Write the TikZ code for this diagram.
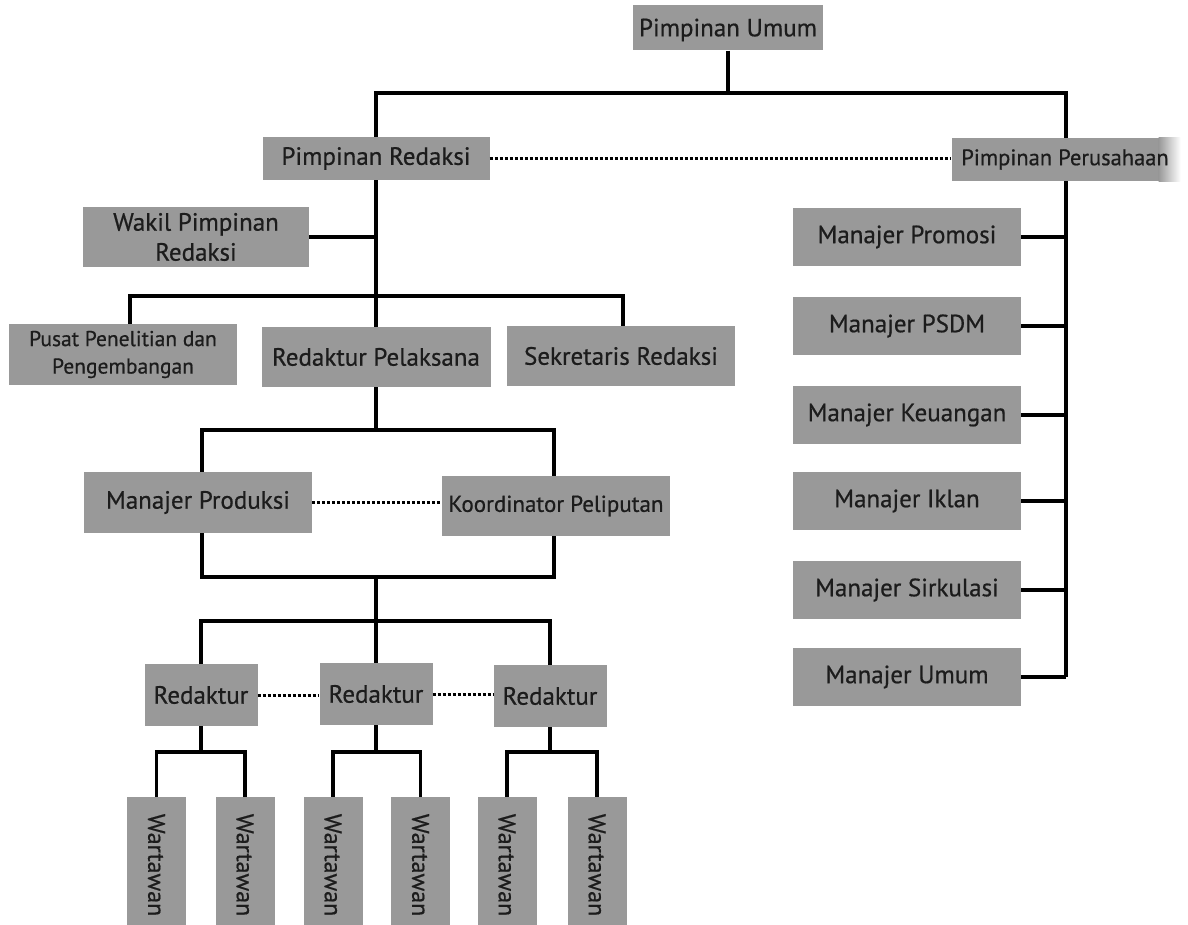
\documentclass[tikz,border=0pt]{standalone}
\usepackage{fontspec}
\setmainfont{PT Sans}[FakeBold=0.6]
\definecolor{boxgray}{RGB}{153,153,153}
\definecolor{txt}{RGB}{28,28,28}
\begin{document}
\begin{tikzpicture}[x=1pt,y=-1pt,
  box/.style={fill=boxgray,inner sep=0pt,text=txt,align=center,font=\fontsize{25}{30}\selectfont},
  lbl/.style={inner sep=0pt,text=txt,align=center,font=\fontsize{25}{30}\selectfont},
  conn/.style={line width=3.6pt,black},
  dots/.style={line width=3pt,black,dash pattern=on 3pt off 2pt}]
\useasboundingbox (0,0) rectangle (1188,925);
% top
\node[box,minimum width=190,minimum height=45] (pu) at (728,28) {};
\node[lbl] at ([yshift=-2]pu.center) {Pimpinan Umum};
\node[box,minimum width=227,minimum height=43] (pr) at (376,158.5) {Pimpinan Redaksi};
\node[box,minimum width=229,minimum height=43] (pp) at (1066,159.5) {};
\shade[left color=boxgray,right color=white] ([xshift=-22]pp.north east) rectangle (pp.south east);
\node[lbl,font=\fontsize{22.5}{28}\selectfont] at ([xshift=-1]pp.center) {Pimpinan Perusahaan};
\node[box,minimum width=226,minimum height=60] (wpr) at (196,237) {Wakil Pimpinan\\Redaksi};
\node[box,minimum width=228,minimum height=61,font=\fontsize{21.5}{27.5}\selectfont] (pus) at (123,354.5) {Pusat Penelitian dan\\Pengembangan};
\node[box,minimum width=229,minimum height=60] (rp) at (376,357) {Redaktur Pelaksana};
\node[box,minimum width=228,minimum height=60] (sr) at (621,356) {Sekretaris Redaksi};
\node[box,minimum width=228,minimum height=61] (mp) at (198,502.5) {Manajer Produksi};
\node[box,minimum width=228,minimum height=60,font=\fontsize{23}{28}\selectfont] (kp) at (556,506) {Koordinator Peliputan};
% redaktur
\node[box,minimum width=113,minimum height=62] (rd1) at (201,695) {Redaktur};
\node[box,minimum width=113,minimum height=62] (rd2) at (376,694) {Redaktur};
\node[box,minimum width=113,minimum height=62] (rd3) at (550,696) {Redaktur};
% wartawan
\foreach \n/\xx in {w1/156.5,w2/245,w3/333,w4/420.5,w5/507,w6/597}{
  \node[box,minimum width=59,minimum height=128] (\n) at (\xx,861) {};
  \shade[top color=boxgray,bottom color=white] ([yshift=-22]\n.south west) rectangle (\n.south east);
  \node[lbl,font=\fontsize{24}{29}\selectfont,rotate=-90] at ([yshift=-4]\n.center) {Wartawan};
}
% managers
\node[box,minimum width=228,minimum height=58] (m1) at (907,237) {Manajer Promosi};
\node[box,minimum width=228,minimum height=58] (m2) at (907,326) {Manajer PSDM};
\node[box,minimum width=228,minimum height=58] (m3) at (907,415) {Manajer Keuangan};
\node[box,minimum width=228,minimum height=58] (m4) at (907,501) {Manajer Iklan};
\node[box,minimum width=228,minimum height=58] (m5) at (907,590) {Manajer Sirkulasi};
\node[box,minimum width=228,minimum height=58] (m6) at (907,677) {Manajer Umum};
% bus coordinates
\coordinate (tb) at (0,93);
\coordinate (b2) at (0,296);
\coordinate (b3) at (0,430);
\coordinate (b4) at (0,577);
\coordinate (b5) at (0,621);
\coordinate (b6) at (0,752);
% connectors
\draw[conn] (pu.south) -- (pu.south |- tb);
\draw[conn] (pr.north) -- (pr.north |- tb) -- (pp.north |- tb) -- (pp.north);
\draw[conn] (pp.south) -- (pp.south |- m6.east);
\foreach \m in {m1,m2,m3,m4,m5,m6}{\draw[conn] (\m.east) -- (\m.east -| pp.south);}
\draw[dots] (pr.east) -- (pp.west |- pr.east);
\draw[conn] (pr.south) -- (rp.north);
\draw[conn] (wpr.east) -- (wpr.east -| pr.south);
\coordinate (pusT) at ([xshift=7]pus.north);
\coordinate (srT) at ([xshift=2]sr.north);
\draw[conn] (pusT) -- (pusT |- b2) -- (srT |- b2) -- (srT);
\coordinate (mpT) at ([xshift=4]mp.north);
\coordinate (kpT) at ([xshift=-2]kp.north);
\draw[conn] (rp.south) -- (rp.south |- b3);
\draw[conn] (mpT) -- (mpT |- b3) -- (kpT |- b3) -- (kpT);
\draw[dots] (mp.east) -- (kp.west |- mp.east);
\coordinate (mpB) at ([xshift=4]mp.south);
\coordinate (kpB) at ([xshift=-2]kp.south);
\draw[conn] (mpB) -- (mpB |- b4) -- (kpB |- b4) -- (kpB);
\draw[conn] (rd2.north |- b4) -- (rd2.north);
\draw[conn] (rd1.north) -- (rd1.north |- b5) -- (rd3.north |- b5) -- (rd3.north);
\draw[dots] (rd1.east) -- (rd2.west |- rd1.east);
\draw[dots] (rd2.east) -- (rd3.west |- rd2.east);
\foreach \r/\a/\b in {rd1/w1/w2,rd2/w3/w4,rd3/w5/w6}{
  \draw[conn] (\r.south) -- (\r.south |- b6);
  \draw[conn] (\a.north) -- (\a.north |- b6) -- (\b.north |- b6) -- (\b.north);
}
\end{tikzpicture}
\end{document}
